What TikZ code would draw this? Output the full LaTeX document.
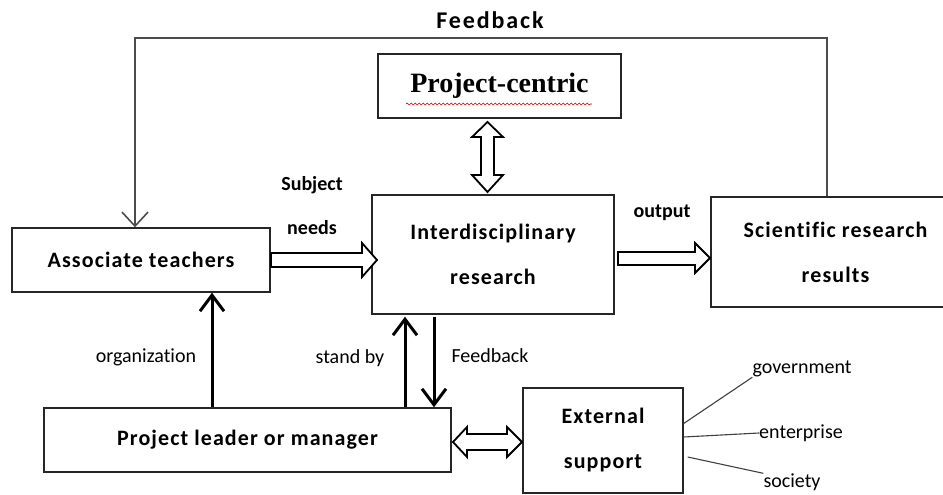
\documentclass[tikz,border=0pt]{standalone}
\usepackage{fontspec}
\setmainfont[Ligatures=NoCommon]{Carlito}
\newfontfamily\serifb{Liberation Serif}
\newfontfamily\spaced[LetterSpace=5,Ligatures=NoCommon]{Carlito}
\newfontfamily\wide[LetterSpace=8]{Carlito}
\usetikzlibrary{arrows.meta,decorations.pathmorphing}
\begin{document}
\begin{tikzpicture}[x=1pt,y=-1pt,
  box/.style={draw=black!85,line width=1.4pt,inner sep=0pt,align=center},
  bt/.style={font=\spaced\bfseries\fontsize{22}{45}\selectfont},
  lab/.style={font=\fontsize{20}{24}\selectfont,inner sep=0pt},
  blab/.style={font=\bfseries\fontsize{20}{24}\selectfont,inner sep=0pt},
  tharrow/.style={line width=3pt,-{Straight Barb[length=16pt,width=24pt]}},
  hollow/.style={draw=black,line width=1.8pt,fill=white,line join=miter},
  fb/.style={draw=black!70,line width=1.6pt},
  thinline/.style={draw=black!75,line width=1.1pt}]
\clip (0,0) rectangle (943,495);
\fill[white] (0,0) rectangle (943,495);

% boxes
\node[box,bt,minimum width=258pt,minimum height=64pt] (assoc) at (141,260) {Associate teachers};
\node[box,minimum width=243pt,minimum height=64pt,font=\serifb\bfseries\fontsize{28}{30}\selectfont] (pc) at (499.5,86) {Project-centric};
\node[box,bt,minimum width=242pt,minimum height=119pt] (inter) at (493,254.5) {Interdisciplinary\\research};
\node[box,bt,minimum width=249pt,minimum height=110pt] (sci) at (835.5,252) {Scientific research\\results};
\node[box,bt,minimum width=407pt,minimum height=64pt] (leader) at (247.5,440) {Project leader or manager};
\node[box,bt,minimum width=160pt,minimum height=105pt] (ext) at (603,440.5) {External\\support};

% spell-check underline
\draw[red!75!black,line width=0.6pt,decorate,decoration={snake,amplitude=0.9pt,segment length=4pt}] (406,104) -- (592,104);

% labels
\node[font=\wide\bfseries\fontsize{24}{28}\selectfont,inner sep=0pt] (fbtxt) at (490,20) {Feedback};
\node[blab] (subj) at (312,185) {Subject};
\node[blab] (needs) at (312,228) {needs};
\node[blab] (out) at (662,213) {output};
\node[lab] (org) at (146,357) {organization};
\node[lab] (sb) at (350,358) {stand by};
\node[lab] (fb2) at (490,356) {Feedback};
\node[lab] (gov) at (802,369) {government};
\node[lab] (ent) at (801,433) {enterprise};
\node[lab] (soc) at (792,482) {society};

% feedback loop
\coordinate (fbl) at (135,38);
\draw[fb,-{Straight Barb[length=14pt,width=26pt]}] ([xshift=-8.5pt]sci.north) |- (fbl) -- ([xshift=-6pt]assoc.north);

% thick arrows
\coordinate (xo) at (212,0);
\coordinate (xs) at (405,0);
\coordinate (xf) at (434,0);
\draw[tharrow] (leader.north -| xo) -- (assoc.south -| xo);
\draw[tharrow] (leader.north -| xs) -- ([yshift=-2pt]inter.south -| xs);
\draw[tharrow] ([yshift=-2pt]inter.south -| xf) -- (leader.north -| xf);

% hollow arrows
\draw[hollow] (271,253) -- (362,253) -- (362,243) -- (377,260) -- (362,277) -- (362,267) -- (271,267) -- cycle;
\draw[hollow] (618,252) -- (695,252) -- (695,243) -- (710,258) -- (695,273) -- (695,265) -- (618,265) -- cycle;
\draw[hollow] (487.5,122) -- (503,137) -- (494,137) -- (494,175) -- (503,175) -- (487.5,192) -- (472,175) -- (481,175) -- (481,137) -- (472,137) -- cycle;
\draw[hollow] (453,442) -- (467,427) -- (467,434) -- (507,434) -- (507,427) -- (522,442) -- (507,457) -- (507,450) -- (467,450) -- (467,457) -- cycle;

% external support lines
\draw[thinline] ([yshift=17pt]ext.east) -- (gov.south west);
\draw[thinline] ([yshift=3.5pt]ext.east) -- (ent.west);
\draw[thinline] ([xshift=4pt,yshift=-16.5pt]ext.east) -- (soc.north west);
\end{tikzpicture}
\end{document}
